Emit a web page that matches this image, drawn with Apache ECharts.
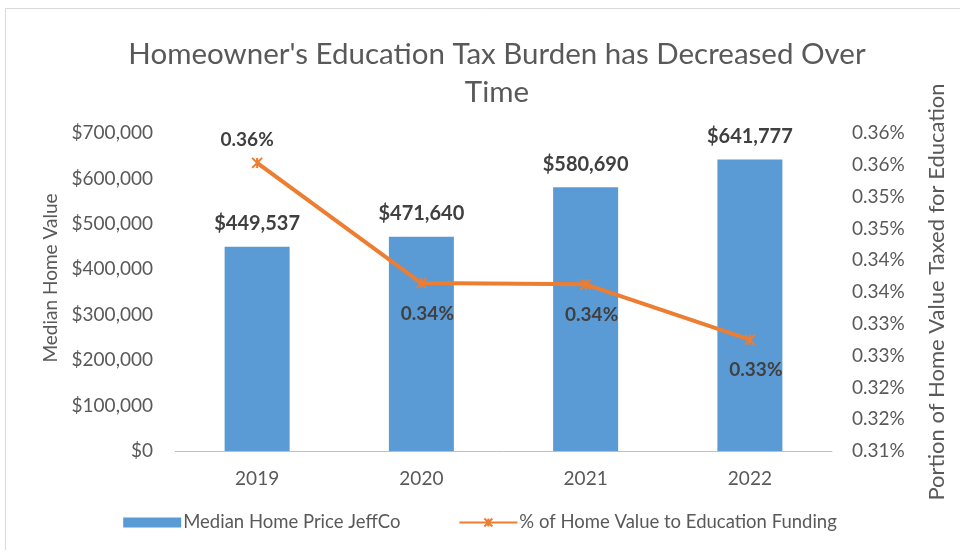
<!DOCTYPE html>
<html>
<head>
<meta charset="utf-8">
<script src="https://cdn.jsdelivr.net/npm/echarts@6/dist/echarts.min.js"></script>
<style>
  html, body { margin: 0; padding: 0; background: #fff; }
  #main { width: 960px; height: 550px; }
</style>
</head>
<body>
<div id="main"></div>
<script>
// 数据
var years = ['2019', '2020', '2021', '2022'];
var homePrice = [449537, 471640, 580690, 641777];
var taxPct = [0.3553, 0.3364, 0.3362, 0.3275];   // 单位 %
var taxLabelPos = ['top', 'bottom', 'bottom', 'bottom'];

var FONT = 'Lato, "Open Sans", sans-serif';
var GRAY = '#595959';

function pct(v) {
    return (Math.round(v * 100 + 0.0001) / 100).toFixed(2) + '%';
}

var myChart = echarts.init(document.getElementById('main'));
myChart.setOption({
    backgroundColor: '#fff',
    textStyle: { fontFamily: FONT },
    title: {
        text: "Homeowner's Education Tax Burden has Decreased Over\nTime",
        left: 492,
        textAlign: 'center',
        top: 30,
        textStyle: { fontFamily: FONT, fontSize: 29.5, fontWeight: 'normal', color: GRAY, lineHeight: 38 }
    },
    graphic: [{
        type: 'rect',
        shape: { x: 5.5, y: 8.5, width: 960, height: 560 },
        style: { fill: 'none', stroke: '#d9d9d9', lineWidth: 1 },
        silent: true
    }],
    legend: {
        bottom: 13,
        left: 'center',
        itemGap: 58,
        itemWidth: 58,
        itemHeight: 10,
        textStyle: { fontFamily: FONT, fontSize: 18.5, color: GRAY, padding: [0, 0, 0, -3] },
        data: [
            { name: 'Median Home Price JeffCo', icon: 'rect' },
            { name: '% of Home Value to Education Funding' }
        ]
    },
    grid: { left: 175, right: 128, top: 133, bottom: 99 },
    xAxis: [{
        type: 'category',
        data: years,
        axisLine: { lineStyle: { color: '#bfbfbf' } },
        axisTick: { show: false },
        axisLabel: { fontFamily: FONT, fontSize: 19, color: GRAY, margin: 18 }
    }],
    yAxis: [{
        type: 'value',
        min: 0,
        max: 700000,
        interval: 100000,
        name: 'Median Home Value',
        nameLocation: 'middle',
        nameGap: 112,
        nameTextStyle: { fontFamily: FONT, fontSize: 19, color: GRAY, padding: [0, 0, 0, 28] },
        splitLine: { show: false },
        axisLine: { show: false },
        axisTick: { show: false },
        axisLabel: {
            fontFamily: FONT, fontSize: 19, color: GRAY, margin: 22,
            formatter: function (v) { return '$' + v.toLocaleString('en-US'); }
        }
    }, {
        type: 'value',
        min: 0.31,
        max: 0.36,
        interval: 0.005,
        name: 'Portion of Home Value Taxed for Education',
        nameLocation: 'middle',
        nameGap: 94,
        nameTextStyle: { fontFamily: FONT, fontSize: 22, color: GRAY },
        splitLine: { show: false },
        axisLine: { show: false },
        axisTick: { show: false },
        axisLabel: { fontFamily: FONT, fontSize: 19, color: GRAY, margin: 20, formatter: pct }
    }],
    series: [{
        name: 'Median Home Price JeffCo',
        type: 'bar',
        yAxisIndex: 0,
        barWidth: 65,
        itemStyle: { color: '#5B9BD5' },
        label: {
            show: true,
            position: 'top',
            distance: 13,
            fontFamily: FONT, fontSize: 20, fontWeight: 'bold', color: '#404040',
            formatter: function (p) { return '$' + p.value.toLocaleString('en-US'); }
        },
        data: homePrice
    }, {
        name: '% of Home Value to Education Funding',
        type: 'line',
        yAxisIndex: 1,
        symbol: 'path://M0,0L10,10M10,0L0,10M5,0L5,10',
        symbolSize: 10,
        lineStyle: { color: '#ED7D31', width: 4 },
        itemStyle: { color: '#ED7D31', borderColor: '#ED7D31', borderWidth: 2 },
        label: {
            show: true,
            distance: 15,
            fontFamily: FONT, fontSize: 19, fontWeight: 'bold', color: '#404040',
            formatter: function (p) { return pct(p.value); }
        },
        data: taxPct.map(function (v, i) {
            var lbl = { position: taxLabelPos[i] };
            if (i === 0) { lbl.offset = [-10, 0]; lbl.distance = 8; }
            else { lbl.offset = [6, 0]; }
            return { value: v, label: lbl };
        })
    }]
});
</script>
</body>
</html>
